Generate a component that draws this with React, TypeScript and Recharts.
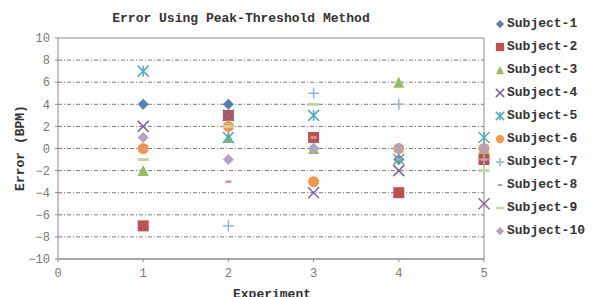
import React from 'react';
import {
  ScatterChart,
  Scatter,
  XAxis,
  YAxis,
  ReferenceLine,
} from 'recharts';

const EXPERIMENTS = [1, 2, 3, 4, 5];
const X_TICKS = [0, 1, 2, 3, 4, 5];
const Y_TICKS = [-10, -8, -6, -4, -2, 0, 2, 4, 6, 8, 10];

const SUBJECT_1 = [4, 4, 0, -1, -1];
const SUBJECT_2 = [-7, 3, 1, -4, -1];
const SUBJECT_3 = [-2, 1, 0, 6, 0];
const SUBJECT_4 = [2, 3, -4, -2, -5];
const SUBJECT_5 = [7, 1, 3, -1, 1];
const SUBJECT_6 = [0, 2, -3, 0, 0];
const SUBJECT_7 = [null, -7, 5, 4, -1];
const SUBJECT_8 = [0, -3, 1, -1, -1];
const SUBJECT_9 = [-1, 2, 4, 0, -2];
const SUBJECT_10 = [1, -1, 0, 0, 0];

const SERIES = [
  { name: 'Subject-1', values: SUBJECT_1, kind: 'diamond', color: '#4F81BD' },
  { name: 'Subject-2', values: SUBJECT_2, kind: 'square', color: '#C0504D' },
  { name: 'Subject-3', values: SUBJECT_3, kind: 'triangle', color: '#9BBB59' },
  { name: 'Subject-4', values: SUBJECT_4, kind: 'cross', color: '#8064A2' },
  { name: 'Subject-5', values: SUBJECT_5, kind: 'star', color: '#4BACC6' },
  { name: 'Subject-6', values: SUBJECT_6, kind: 'circle', color: '#F79646' },
  { name: 'Subject-7', values: SUBJECT_7, kind: 'plus', color: '#95B3D7' },
  { name: 'Subject-8', values: SUBJECT_8, kind: 'shortDash', color: '#D99694' },
  { name: 'Subject-9', values: SUBJECT_9, kind: 'dash', color: '#C3D69B' },
  { name: 'Subject-10', values: SUBJECT_10, kind: 'diamond', color: '#B3A2C7' },
];

const MONO = '"Liberation Mono", "Courier New", monospace';

function Marker({ kind, cx, cy, color, s = 1 }: any) {
  const r = 5.5 * s;
  switch (kind) {
    case 'diamond':
      return <polygon points={`${cx},${cy - r} ${cx + r},${cy} ${cx},${cy + r} ${cx - r},${cy}`} fill={color} />;
    case 'square':
      return <rect x={cx - r} y={cy - r} width={2 * r} height={2 * r} fill={color} />;
    case 'triangle':
      return <polygon points={`${cx},${cy - r} ${cx + r},${cy + r} ${cx - r},${cy + r}`} fill={color} />;
    case 'cross':
      return (
        <g stroke={color} strokeWidth={1.5}>
          <line x1={cx - r} y1={cy - r} x2={cx + r} y2={cy + r} />
          <line x1={cx - r} y1={cy + r} x2={cx + r} y2={cy - r} />
        </g>
      );
    case 'star':
      return (
        <g stroke={color} strokeWidth={1.5}>
          <line x1={cx - r} y1={cy - r} x2={cx + r} y2={cy + r} />
          <line x1={cx - r} y1={cy + r} x2={cx + r} y2={cy - r} />
          <line x1={cx} y1={cy - r} x2={cx} y2={cy + r} />
        </g>
      );
    case 'circle':
      return <circle cx={cx} cy={cy} r={r} fill={color} />;
    case 'plus':
      return (
        <g stroke={color} strokeWidth={1.5}>
          <line x1={cx - r} y1={cy} x2={cx + r} y2={cy} />
          <line x1={cx} y1={cy - r} x2={cx} y2={cy + r} />
        </g>
      );
    case 'shortDash':
      return <rect x={cx - 3 * s} y={cy - 1.3 * s} width={6 * s} height={2.6 * s} fill={color} />;
    case 'dash':
      return <rect x={cx - r} y={cy - 1.5 * s} width={2 * r} height={3 * s} fill={color} />;
    default:
      return null;
  }
}

function LegendBox() {
  return (
    <div style={{ position: 'absolute', left: 494, top: 12, width: 105 }}>
      {SERIES.map((s) => (
        <div key={s.name} style={{ height: 23, display: 'flex', alignItems: 'center' }}>
          <svg width={12} height={12} style={{ marginRight: 1 }}>
            <Marker kind={s.kind} cx={6} cy={6} color={s.color} s={0.75} />
          </svg>
          <span style={{ fontFamily: MONO, fontWeight: 'bold', fontSize: 13, color: '#333' }}>{s.name}</span>
        </div>
      ))}
    </div>
  );
}

const fmt = (v: number) => (v < 0 ? `\u2212${Math.abs(v)}` : `${v}`);

export default function App() {
  return (
    <div style={{ position: 'absolute', left: 0, top: 0, width: 597, height: 297, background: '#fff', overflow: 'hidden' }}>
      <div
        style={{
          position: 'absolute',
          left: 58,
          width: 366,
          top: 11,
          textAlign: 'center',
          fontFamily: MONO,
          fontWeight: 'bold',
          fontSize: 13,
          color: '#333',
        }}
      >
        Error Using Peak-Threshold Method
      </div>
      <ScatterChart width={597} height={297} margin={{ top: 38, right: 113, bottom: 8, left: 0 }}>
        <XAxis
          type="number"
          dataKey="x"
          domain={[0, 5]}
          ticks={X_TICKS}
          height={30}
          stroke="#8c8c8c"
          tickSize={3}
          tickMargin={6}
          tick={{ fill: '#777', fontSize: 12, fontFamily: MONO }}
          label={{
            content: () => (
              <text x={272} y={298} textAnchor="middle" fontFamily={MONO} fontWeight="bold" fontSize={13} fill="#333">
                Experiment
              </text>
            ),
          }}
        />
        <YAxis
          type="number"
          dataKey="y"
          domain={[-10, 10]}
          ticks={Y_TICKS}
          width={58}
          stroke="#8c8c8c"
          tickSize={3}
          tickMargin={5}
          tickFormatter={fmt}
          tick={{ fill: '#777', fontSize: 12, fontFamily: MONO }}
          label={{
            content: () => (
              <text
                x={21}
                y={148}
                transform="rotate(-90 21 148)"
                textAnchor="middle"
                dominantBaseline="middle"
                fontFamily={MONO}
                fontWeight="bold"
                fontSize={13}
                fill="#333"
              >
                Error (BPM)
              </text>
            ),
          }}
        />
        {Y_TICKS.slice(1, -1).map((v) => (
          <ReferenceLine key={v} y={v} stroke="#7a7a7a" strokeDasharray="4 2 1 2" />
        ))}
        <ReferenceLine y={10} stroke="#8c8c8c" />
        <ReferenceLine y={-10} stroke="#8c8c8c" />
        <ReferenceLine x={5} stroke="#8c8c8c" />
        {SERIES.map((s) => (
          <Scatter
            key={s.name}
            name={s.name}
            data={EXPERIMENTS.map((x, i) => ({ x, y: s.values[i] })).filter((d) => d.y !== null)}
            fill={s.color}
            isAnimationActive={false}
            shape={(p: any) => <Marker kind={s.kind} cx={p.cx} cy={p.cy} color={s.color} />}
          />
        ))}
      </ScatterChart>
      <LegendBox />
    </div>
  );
}
